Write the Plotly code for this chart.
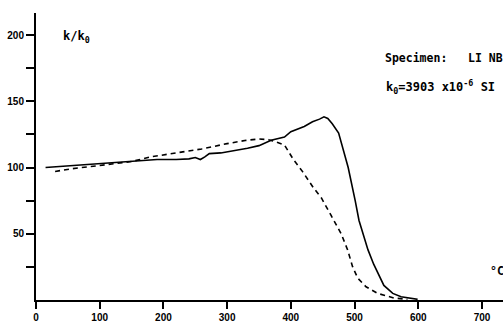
import plotly.graph_objects as go

# Solid curve (heating)
solid_T = [15, 30, 50, 70, 100, 130, 160, 190, 220, 240, 250, 258, 265, 272, 290, 310, 332, 350,
           369, 390, 400, 421, 434, 445, 452, 458, 465, 475, 490, 501, 507, 521, 530, 546, 560, 573, 599]
solid_k = [100, 100.5, 101, 101.5, 102.5, 103.5, 105, 106, 106, 106.5, 107.5, 106, 108, 110.5, 111, 112.5, 114.5, 116.5,
           120.5, 123, 127, 131, 134.5, 136.5, 138.2, 137, 133, 126, 100, 75, 60, 38, 27, 11, 5, 2.5, 0.5]

# Dashed curve (cooling)
dash_T = [30, 55, 100, 150, 180, 220, 260, 300, 330, 350, 365, 372, 390, 404, 419, 435, 448, 463,
          479, 489, 497, 505, 518, 536, 562, 583]
dash_k = [97, 99, 101.5, 104.5, 108, 111, 114, 118, 120.5, 121.5, 121, 120, 117, 106, 96.5, 85, 77, 64,
          50, 38, 25, 16.5, 10, 5, 1.5, 0.5]

x_ticks = [0, 100, 200, 300, 400, 500, 600, 700]
y_ticks = [25, 50, 75, 100, 125, 150, 175, 200]
y_ticktext = ["", "50", "", "100", "", "150", "", "200"]

fig = go.Figure()
fig.add_trace(go.Scatter(x=solid_T, y=solid_k, mode="lines",
                         line=dict(color="black", width=1.6), showlegend=False))
fig.add_trace(go.Scatter(x=dash_T, y=dash_k, mode="lines",
                         line=dict(color="black", width=1.6, dash="5px,4px"), showlegend=False))

tickfont = dict(family="Liberation Sans", size=10, color="black", weight="bold")
fig.update_layout(
    width=503, height=328,
    margin=dict(l=36, r=0, t=13, b=28),
    paper_bgcolor="white", plot_bgcolor="white",
    xaxis=dict(range=[0, 733], tickvals=x_ticks, ticks="outside", ticklen=7, tickwidth=1.5,
               tickcolor="black", showline=True, linewidth=2, linecolor="black",
               showgrid=False, zeroline=False, tickfont=tickfont),
    yaxis=dict(range=[0, 216.6], tickvals=y_ticks, ticktext=y_ticktext, ticks="outside",
               ticklen=8, tickwidth=1.5, tickcolor="black", showline=True, linewidth=2,
               linecolor="black", showgrid=False, zeroline=False, tickfont=tickfont),
)

ann_font = dict(family="DejaVu Sans Mono", size=11.5, color="black", weight="bold")
fig.add_annotation(x=39, y=198.5, text="k/k<sub>0</sub>", showarrow=False,
                   xanchor="left", yanchor="middle",
                   font=dict(family="DejaVu Sans Mono", size=12, color="black", weight="bold"))
fig.add_annotation(x=545, y=182.6, text="Specimen:&nbsp;&nbsp;&nbsp;LI NB", showarrow=False,
                   xanchor="left", yanchor="middle", font=ann_font)
fig.add_annotation(x=546, y=160.8, text="k<sub>0</sub>=3903 x10<sup>-6</sup> SI", showarrow=False,
                   xanchor="left", yanchor="middle",
                   font=dict(family="DejaVu Sans Mono", size=12, color="black", weight="bold"))
fig.add_annotation(x=710, y=22, text="°C", showarrow=False,
                   xanchor="left", yanchor="middle", font=ann_font)

fig.write_html("out.html")
